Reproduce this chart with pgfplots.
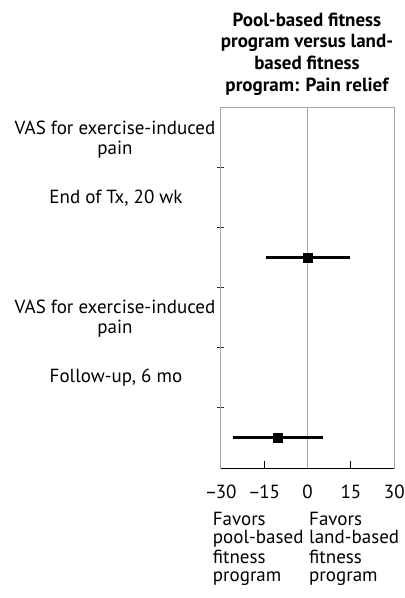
\documentclass[border=0pt]{standalone}
\usepackage{pgfplots}
\pgfplotsset{compat=1.18}
\usepackage{fontspec}
\setmainfont{PT Sans}
\newcommand{\fs}{\fontsize{19bp}{21bp}\selectfont}
\newcommand{\mn}{\textendash\kern-1.5bp}
\begin{document}
\begin{tikzpicture}
\path[use as bounding box] (0,0) rectangle (405bp,598bp);
\begin{axis}[
  at={(220.7bp,130bp)}, anchor=south west,
  scale only axis, width=173.6bp, height=361bp,
  xmin=-30, xmax=30, ymin=0, ymax=6,
  clip=false,
  axis line style={gray!70, line width=0.8bp},
  xtick={-30,-15,0,15,30},
  xticklabels={\mn30,\mn15,0,15,30},
  ytick={1,2,3,4,5},
  yticklabels={},
  xtick pos=bottom, ytick pos=left,
  tick align=inside,
  x tick style={black, line width=0.8bp},
  y tick style={gray!40!black, line width=0.8bp, xshift=-4bp},
  major tick length=7bp,
  xticklabel style={font=\fs, anchor=base, yshift=-31bp, inner sep=0pt},
]
\addplot[gray!70, line width=0.8bp] coordinates {(0,0) (0,6)};
\addplot[black, line width=0.8bp] coordinates {(-30,0) (30,0)};
\addplot[black, mark=square*, mark size=4.5bp, only marks,
  error bars/.cd, x dir=both, x explicit,
  error bar style={line width=3bp, black}, error mark=none]
  coordinates {
  (0,3.5) += (14.8,0) -= (14.3,0)
  (-10.2,0.5) += (15.7,0) -= (15.4,0)
  };
\end{axis}
\begin{scope}[every node/.style={inner sep=0pt, font=\fs}]
\node[anchor=base, font=\bfseries\fs] at (307bp,571bp) {Pool-based fitness};
\node[anchor=base, font=\bfseries\fs] at (307bp,550bp) {program versus land-};
\node[anchor=base, font=\bfseries\fs] at (307bp,528bp) {based fitness};
\node[anchor=base, font=\bfseries\fs] at (307bp,506bp) {program: Pain relief};
\node[anchor=base] at (115bp,463bp) {VAS for exercise-induced};
\node[anchor=base] at (115bp,443bp) {pain};
\node[anchor=base] at (116bp,394bp) {End of Tx, 20 wk};
\node[anchor=base] at (115bp,284bp) {VAS for exercise-induced};
\node[anchor=base] at (115bp,264bp) {pain};
\node[anchor=base] at (116bp,215bp) {Follow-up, 6 mo};
\node[anchor=base west] at (212.7bp,72bp) {Favors};
\node[anchor=base west] at (212.7bp,54bp) {pool-based};
\node[anchor=base west] at (212.7bp,35bp) {fitness};
\node[anchor=base west] at (212.7bp,17bp) {program};
\node[anchor=base west] at (309bp,72bp) {Favors};
\node[anchor=base west] at (309bp,54bp) {land-based};
\node[anchor=base west] at (309bp,35bp) {fitness};
\node[anchor=base west] at (309bp,17bp) {program};
\end{scope}
\end{tikzpicture}
\end{document}
